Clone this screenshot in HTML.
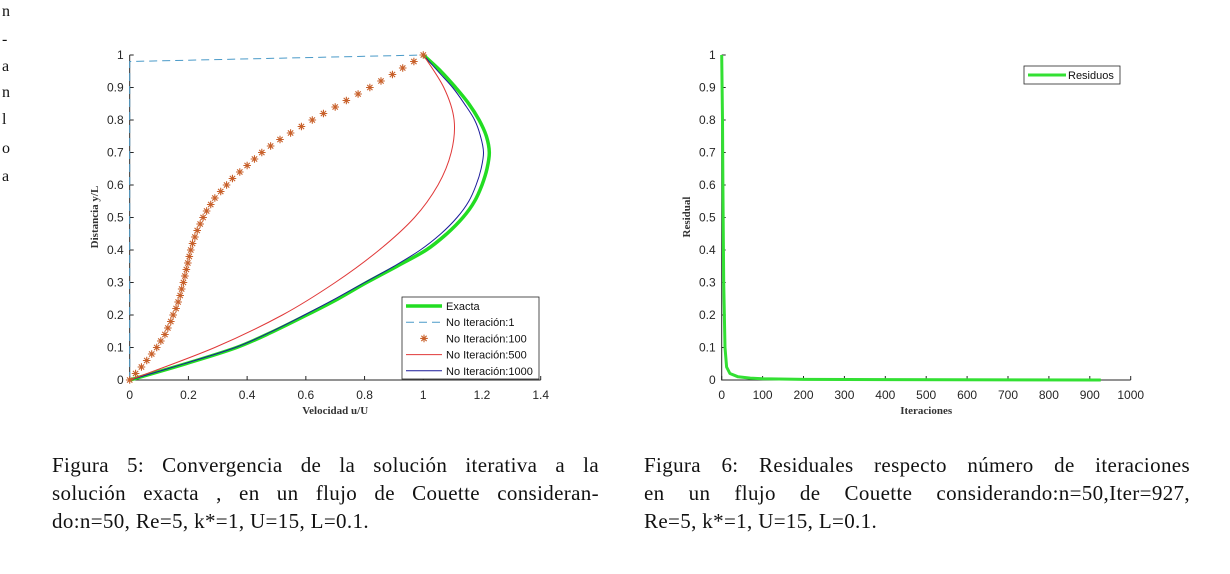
<!DOCTYPE html>
<html><head><meta charset="utf-8"><style>
body{margin:0;width:1230px;height:574px;background:#fff;overflow:hidden;position:relative;font-family:"Liberation Serif",serif;}
.cap{position:absolute;font-size:21px;letter-spacing:0.35px;color:#111;line-height:28px;}
.cap div{text-align:justify;text-align-last:justify;white-space:nowrap;}
.cap div.last{text-align-last:left;}
.side{position:absolute;left:2px;font-size:16px;color:#111;}
</style></head><body>
<div>
<div class="side" style="top:3px">n</div><div class="side" style="top:31px">-</div><div class="side" style="top:58px">a</div><div class="side" style="top:84px">n</div><div class="side" style="top:111px">l</div><div class="side" style="top:140px">o</div><div class="side" style="top:168px">a</div>
</div>
<svg width="1230" height="574" style="position:absolute;left:0;top:0" font-family="Liberation Sans, sans-serif">
<g id="left"></g>
<g id="right"></g>
</svg>
<div class="cap" style="left:52px;top:451px;width:547px">
<div>Figura 5: Convergencia de la solución iterativa a la</div>
<div>solución exacta , en un flujo de Couette consideran-</div>
<div class="last">do:n=50, Re=5, k*=1, U=15, L=0.1.</div></div>
<div class="cap" style="left:644px;top:451px;width:546px">
<div>Figura 6: Residuales respecto número de iteraciones</div>
<div>en un flujo de Couette considerando:n=50,Iter=927,</div>
<div class="last">Re=5, k*=1, U=15, L=0.1.</div></div>
<script>
const yLevels=[0,0.05,0.1,0.15,0.2,0.25,0.3,0.35,0.4,0.45,0.5,0.55,0.6,0.65,0.7,0.75,0.8,0.85,0.9,0.95,1];
const exactX=[0,0.19,0.364,0.49,0.603,0.71,0.807,0.91,1.01,1.08,1.135,1.175,1.2,1.217,1.225,1.215,1.19,1.155,1.11,1.06,1];
const iter1000X=[0,0.185,0.36,0.485,0.595,0.7,0.8,0.9,0.99,1.06,1.115,1.155,1.18,1.197,1.205,1.195,1.175,1.14,1.1,1.05,1];
const iter500Y=[0,0.1,0.2,0.3,0.4,0.5,0.6,0.7,0.8,0.9,1];
const iter500X=[0,0.29,0.52,0.70,0.85,0.97,1.05,1.095,1.105,1.07,1];
const iter1X=[0,0,1];const iter1Y=[0,0.98,1];
const iter100Y=[0,0.02,0.04,0.06,0.08,0.1,0.12,0.14,0.16,0.18,0.2,0.22,0.24,0.26,0.28,0.3,0.32,0.34,0.36,0.38,0.4,0.42,0.44,0.46,0.48,0.5,0.52,0.54,0.56,0.58,0.6,0.62,0.64,0.66,0.68,0.7,0.72,0.74,0.76,0.78,0.8,0.82,0.84,0.86,0.88,0.9,0.92,0.94,0.96,0.98,1];
const iter100X=[0,0.02,0.04,0.058,0.075,0.092,0.106,0.12,0.13,0.14,0.148,0.158,0.165,0.172,0.177,0.183,0.188,0.193,0.198,0.203,0.208,0.214,0.222,0.23,0.24,0.25,0.262,0.276,0.29,0.31,0.33,0.35,0.375,0.4,0.425,0.45,0.48,0.512,0.548,0.585,0.622,0.66,0.7,0.738,0.778,0.818,0.856,0.895,0.93,0.968,1];
const resIter=[0,2,3,5,8,12,20,40,70,100,200,927];
const resVal=[1,0.8,0.6,0.3,0.1,0.04,0.02,0.01,0.006,0.004,0.002,0];
const leftXTicks=[0,0.2,0.4,0.6,0.8,1,1.2,1.4];
const yTicks=[0,0.1,0.2,0.3,0.4,0.5,0.6,0.7,0.8,0.9,1];
const rightXTicks=[0,100,200,300,400,500,600,700,800,900,1000];
const NS='http://www.w3.org/2000/svg';
function mk(p,t,a){const e=document.createElementNS(NS,t);for(const k in a)e.setAttribute(k,a[k]);p.appendChild(e);return e;}
function axes(g,x0,x1,xmax,xt,fmt,xtitle,ytitle,ytx){
 const sx=v=>x0+(x1-x0)*v/xmax, sy=v=>380-325*v;
 const ax=mk(g,'path',{d:`M${x0} ${sy(1)}V380H${x1}`,stroke:'#262626',fill:'none','stroke-width':1});
 
 xt.forEach(v=>{const l=mk(g,'line',{x1:sx(v),x2:sx(v),y1:380,y2:376,stroke:'#262626'});
  const t=mk(g,'text',{x:sx(v),y:399,'font-size':12,'text-anchor':'middle',fill:'#262626'});t.textContent=fmt(v);});
 yTicks.forEach(v=>{const l=mk(g,'line',{x1:x0,x2:x0+4,y1:sy(v),y2:sy(v),stroke:'#262626'});
  const t=mk(g,'text',{x:x0-6,y:sy(v)+4,'font-size':12,'text-anchor':'end',fill:'#262626'});t.textContent=String(v);});
 const xl=mk(g,'text',{x:(x0+x1)/2,y:414,'font-size':11,'font-weight':'bold','font-family':'Liberation Serif, serif','text-anchor':'middle',fill:'#333'});xl.textContent=xtitle;
 const yl=mk(g,'text',{x:0,y:0,transform:`translate(${ytx},217) rotate(-90)`,'font-size':11,'font-weight':'bold','font-family':'Liberation Serif, serif','text-anchor':'middle',fill:'#333'});yl.textContent=ytitle;
 return [sx,sy];
}
function line(g,xs,ys,sx,sy,attrs,name,smooth){
 const P=xs.map((v,i)=>[sx(v),sy(ys[i])]);
 let d='M'+P[0][0].toFixed(1)+' '+P[0][1].toFixed(1);
 for(let i=0;i<P.length-1;i++){
  if(!smooth){d+='L'+P[i+1][0].toFixed(1)+' '+P[i+1][1].toFixed(1);continue;}
  const p0=P[Math.max(0,i-1)],p1=P[i],p2=P[i+1],p3=P[Math.min(P.length-1,i+2)];
  const c1=[p1[0]+(p2[0]-p0[0])/6,p1[1]+(p2[1]-p0[1])/6],c2=[p2[0]-(p3[0]-p1[0])/6,p2[1]-(p3[1]-p1[1])/6];
  d+=`C${c1[0].toFixed(1)} ${c1[1].toFixed(1)} ${c2[0].toFixed(1)} ${c2[1].toFixed(1)} ${p2[0].toFixed(1)} ${p2[1].toFixed(1)}`;
 }
 const p=mk(g,'path',Object.assign({d:d,fill:'none'},attrs));return p;}
const L=document.getElementById('left');
const [lx,ly]=axes(L,129.7,540.7,1.4,leftXTicks,v=>String(v),'Velocidad u/U','Distancia y/L',98);
line(L,exactX,yLevels,lx,ly,{stroke:'#22dd22','stroke-width':3.5,'stroke-linejoin':'round'},'series-exacta',true);
line(L,iter1000X,yLevels,lx,ly,{stroke:'#1a1a9a','stroke-width':1},'series-iter-1000',true);
line(L,iter500X,iter500Y,lx,ly,{stroke:'#e03838','stroke-width':1},'series-iter-500',true);
line(L,iter1X,iter1Y,lx,ly,{stroke:'#4a9ac8','stroke-width':1,'stroke-dasharray':'8 5'},'series-iter-1',false);
function star(g,cx,cy,name){const r=3.8;const d=`M${cx-r} ${cy}H${cx+r}M${cx} ${cy-r}V${cy+r}M${cx-r*0.7} ${cy-r*0.7}L${cx+r*0.7} ${cy+r*0.7}M${cx-r*0.7} ${cy+r*0.7}L${cx+r*0.7} ${cy-r*0.7}`;const p=mk(g,'path',{d:d,stroke:'#c8602a','stroke-width':1.1});}
iter100X.forEach((v,i)=>star(L,lx(v),ly(iter100Y[i]),'iter-100-marker'));
const lg=mk(L,'g',{});
mk(lg,'rect',{x:402,y:297,width:137,height:82,fill:'#fff',stroke:'#262626','stroke-width':0.8});
const items=['Exacta','No Iteración:1','No Iteración:100','No Iteración:500','No Iteración:1000'];
items.forEach((s,i)=>{const y=306+i*16.2;
 if(i==0)mk(lg,'line',{x1:406,x2:442,y1:y,y2:y,stroke:'#22dd22','stroke-width':3.5});
 if(i==1)mk(lg,'line',{x1:406,x2:442,y1:y,y2:y,stroke:'#4a9ac8','stroke-dasharray':'8 5'});
 if(i==2)star(lg,424,y,'legend-marker');
 if(i==3)mk(lg,'line',{x1:406,x2:442,y1:y,y2:y,stroke:'#e03838'});
 if(i==4)mk(lg,'line',{x1:406,x2:442,y1:y,y2:y,stroke:'#1a1a9a'});
 const t=mk(lg,'text',{x:446,y:y+4,'font-size':11,fill:'#111'});t.textContent=s;});
const R=document.getElementById('right');
const [rx,ry]=axes(R,721.7,1130.7,1000,rightXTicks,v=>String(v),'Iteraciones','Residual',690);
line(R,resIter,resVal,rx,ry,{stroke:'#33e033','stroke-width':3,'stroke-linejoin':'round'},'series-residuos',false);
const rg=mk(R,'g',{});
mk(rg,'rect',{x:1024,y:66,width:96,height:18,fill:'#fff',stroke:'#262626','stroke-width':0.8});
mk(rg,'line',{x1:1028,x2:1066,y1:75,y2:75,stroke:'#33e033','stroke-width':3});
const rt=mk(rg,'text',{x:1068,y:79,'font-size':11,fill:'#111'});rt.textContent='Residuos';
</script>
</body></html>
